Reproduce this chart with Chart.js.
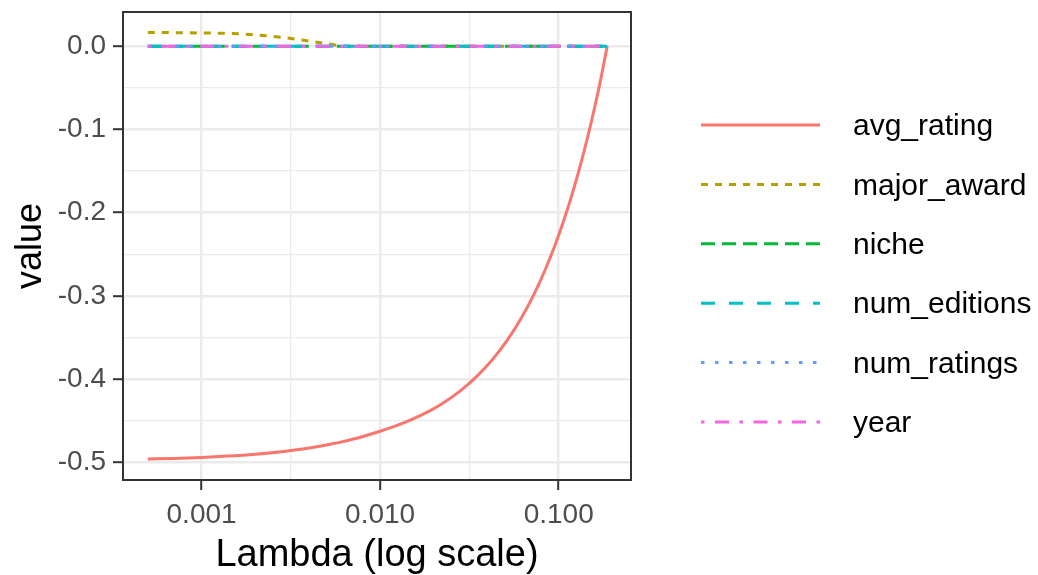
<!DOCTYPE html>
<html>
<head>
<meta charset="utf-8">
<title>Lasso coefficient paths</title>
<script src="https://cdn.jsdelivr.net/npm/chart.js@4.4.0/dist/chart.umd.min.js"></script>
<style>
  html, body { margin: 0; padding: 0; background: #fff; }
  #wrap { width: 1038px; height: 575px; }
</style>
</head>
<body>
<div id="wrap"><canvas id="chart" width="1038" height="575"></canvas></div>
<script>
// values
const lambda = [0.0005, 0.0007, 0.001, 0.0014, 0.002, 0.0028, 0.004, 0.0055, 0.006, 0.0075,
  0.01, 0.013, 0.017, 0.022, 0.028, 0.035, 0.043, 0.052, 0.062, 0.072,
  0.083, 0.095, 0.107, 0.12, 0.133, 0.147, 0.16, 0.173, 0.187];

const avgRating = [-0.4958, -0.4951, -0.4939, -0.4923, -0.4900, -0.4870, -0.4826, -0.4772, -0.4755, -0.4705,
  -0.4625, -0.4540, -0.4432, -0.4300, -0.4143, -0.3960, -0.3752, -0.3518, -0.3258, -0.2998,
  -0.2712, -0.2400, -0.2088, -0.1750, -0.1412, -0.1048, -0.0710, -0.0372, 0];
const majorAward = [0.0164, 0.0162, 0.0158, 0.0153, 0.0136, 0.0107, 0.0061, 0.0016, 0, 0,
  0, 0, 0, 0, 0, 0, 0, 0, 0, 0,
  0, 0, 0, 0, 0, 0, 0, 0, 0];
const niche = [0, 0, 0, 0, 0, 0, 0, 0, 0, 0, 0, 0, 0, 0, 0, 0, 0, 0, 0, 0, 0, 0, 0, 0, 0, 0, 0, 0, 0];
const numEditions = [0, 0, 0, 0, 0, 0, 0, 0, 0, 0, 0, 0, 0, 0, 0, 0, 0, 0, 0, 0, 0, 0, 0, 0, 0, 0, 0, 0, 0];
const numRatings = [0, 0, 0, 0, 0, 0, 0, 0, 0, 0, 0, 0, 0, 0, 0, 0, 0, 0, 0, 0, 0, 0, 0, 0, 0, 0, 0, 0, 0];
const year = [0, 0, 0, 0, 0, 0, 0, 0, 0, 0, 0, 0, 0, 0, 0, 0, 0, 0, 0, 0, 0, 0, 0, 0, 0, 0, 0, 0, 0];

const seriesNames = ['avg_rating', 'major_award', 'niche', 'num_editions', 'num_ratings', 'year'];

const xTicks = [0.001, 0.01, 0.1];
const xTickLabels = ['0.001', '0.010', '0.100'];
const xMinorTicks = [0.0031623, 0.031623];

const yTicks = [-0.5, -0.4, -0.3, -0.2, -0.1, 0];
const yTickLabels = ['-0.5', '-0.4', '-0.3', '-0.2', '-0.1', '0.0'];
const yMinorTicks = [-0.45, -0.35, -0.25, -0.15, -0.05];

// styling (ggplot2 hue palette + linetypes)
const colors = ['#F8766D', '#B79F00', '#00BA38', '#00BFC4', '#619CFF', '#F564E3'];
const dashes = [[], [7, 7], [14, 7], [14, 14], [3.5, 10.5], [3.5, 10.5, 14, 10.5]];
const FONT = "'Liberation Sans', Arial, Helvetica, sans-serif";
const LINE_W = 3;

Chart.defaults.font.family = FONT;

const seriesValues = [avgRating, majorAward, niche, numEditions, numRatings, year];

const datasets = seriesNames.map((name, i) => ({
  label: name,
  data: lambda.map((l, j) => ({ x: l, y: seriesValues[i][j] })),
  borderColor: colors[i],
  backgroundColor: colors[i],
  borderDash: dashes[i],
  borderWidth: LINE_W,
  borderCapStyle: 'butt',
  pointRadius: 0,
  cubicInterpolationMode: 'monotone',
  fill: false,
  order: seriesNames.length - i
}));

function makeTicks(major, minor) {
  return major.map((v) => ({ value: v, minor: false }))
    .concat(minor.map((v) => ({ value: v, minor: true })))
    .sort((a, b) => a.value - b.value);
}

function labelFor(values, labels, value) {
  for (let i = 0; i < values.length; i++) {
    if (Math.abs(values[i] - value) < 1e-9) {
      return labels[i];
    }
  }
  return '';
}

// keep the panel exactly where layout padding puts it
function noScalePadding(scale) {
  scale.paddingTop = 0;
  scale.paddingBottom = 0;
  scale.paddingLeft = 0;
  scale.paddingRight = 0;
}

const gridStyle = {
  color: '#EBEBEB',
  lineWidth: (ctx) => (ctx.tick && ctx.tick.minor ? 1.3 : 2.4),
  tickColor: (ctx) => (ctx.tick && ctx.tick.minor ? 'rgba(0,0,0,0)' : '#333333'),
  tickWidth: 2,
  tickLength: 10,
  drawTicks: true
};

const panelBorder = {
  id: 'panelBorder',
  afterDatasetsDraw(chart) {
    const { ctx, chartArea } = chart;
    ctx.save();
    ctx.strokeStyle = '#333333';
    ctx.lineWidth = 2;
    ctx.strokeRect(chartArea.left, chartArea.top,
      chartArea.right - chartArea.left, chartArea.bottom - chartArea.top);
    ctx.restore();
  }
};

// ggplot-style key: dashed line sample followed by the series name
const keyLegend = {
  id: 'keyLegend',
  afterDraw(chart) {
    const { ctx } = chart;
    const x0 = 701;
    const x1 = 820;
    const textX = 853;
    const y0 = 125;
    const step = 59.4;
    ctx.save();
    chart.data.datasets.forEach((ds, i) => {
      const y = y0 + i * step;
      ctx.beginPath();
      ctx.setLineDash(ds.borderDash);
      ctx.lineCap = 'butt';
      ctx.strokeStyle = ds.borderColor;
      ctx.lineWidth = LINE_W;
      ctx.moveTo(x0, y);
      ctx.lineTo(x1, y);
      ctx.stroke();
      ctx.setLineDash([]);
      ctx.fillStyle = '#000000';
      ctx.font = '30px ' + FONT;
      ctx.textAlign = 'left';
      ctx.textBaseline = 'middle';
      ctx.fillText(ds.label, textX, y + 2);
    });
    ctx.restore();
  }
};

new Chart(document.getElementById('chart').getContext('2d'), {
  type: 'line',
  data: { datasets },
  options: {
    responsive: false,
    animation: false,
    layout: { padding: { top: 12, right: 407, left: 0, bottom: 0 } },
    scales: {
      x: {
        type: 'logarithmic',
        min: Math.pow(10, -3.44),
        max: Math.pow(10, -0.595),
        afterBuildTicks: (scale) => { scale.ticks = makeTicks(xTicks, xMinorTicks); },
        afterFit: (scale) => { scale.height = 95; noScalePadding(scale); },
        grid: gridStyle,
        border: { display: false },
        ticks: {
          autoSkip: false,
          maxRotation: 0,
          color: '#4D4D4D',
          font: { size: 28 },
          padding: 8,
          callback: (value) => labelFor(xTicks, xTickLabels, value)
        },
        title: {
          display: true,
          text: 'Lambda (log scale)',
          color: '#000000',
          font: { size: 38 },
          padding: { top: 0, bottom: -3 }
        }
      },
      y: {
        type: 'linear',
        min: -0.521,
        max: 0.041,
        afterBuildTicks: (scale) => { scale.ticks = makeTicks(yTicks, yMinorTicks); },
        afterFit: (scale) => { scale.width = 123; noScalePadding(scale); },
        grid: gridStyle,
        border: { display: false },
        ticks: {
          autoSkip: false,
          color: '#4D4D4D',
          font: { size: 28 },
          padding: 7,
          callback: (value) => labelFor(yTicks, yTickLabels, value)
        },
        title: {
          display: true,
          text: 'value',
          color: '#000000',
          font: { size: 36 },
          padding: { top: 9, bottom: 0 }
        }
      }
    },
    plugins: {
      legend: { display: false },
      tooltip: { enabled: false }
    }
  },
  plugins: [panelBorder, keyLegend]
});
</script>
</body>
</html>
